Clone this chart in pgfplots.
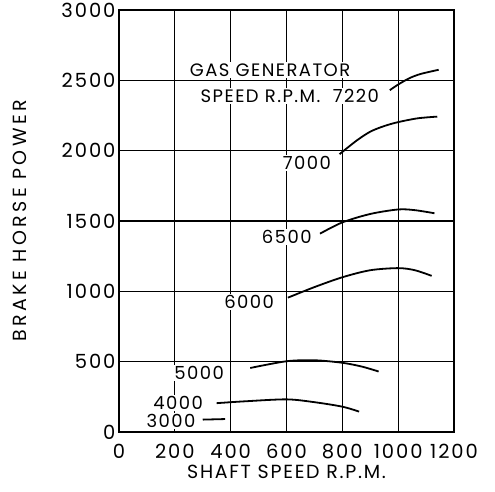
\documentclass[border=0pt]{standalone}
\usepackage{fontspec}
\setmainfont{Poppins}
\newfontfamily\ticksfont{Poppins}[LetterSpace=10]
\newfontfamily\labfont{Poppins}[LetterSpace=18]
\newfontfamily\xlabfont{Poppins}[LetterSpace=9]
\newfontfamily\curvefont{Poppins}[LetterSpace=8]
\usepackage{pgfplots}
\pgfplotsset{compat=1.18}
\usetikzlibrary{calc}

\begin{document}
\begin{tikzpicture}
\begin{axis}[
    name=ax,
    scale only axis,
    width=335pt, height=422pt,
    xmin=0, xmax=1200, ymin=0, ymax=3000,
    xtick={0,200,...,1200},
    ytick={0,500,...,3000},
    major tick length=0pt,
    grid=major,
    major grid style={black, line width=1.3pt},
    /pgf/number format/assume math mode=true,
    /pgf/number format/1000 sep={},
    tick label style={font=\ticksfont\fontsize{19.5}{22}\selectfont},
    xticklabel style={yshift=-9pt},
    label style={font=\labfont\fontsize{19}{22}\selectfont},
    xlabel={SHAFT SPEED R.P.M.},
    ylabel={BRAKE HORSE POWER},
    xlabel style={font=\xlabfont\fontsize{19}{22}\selectfont, at={(axis description cs:0.5,-0.095)}, anchor=center},
    ylabel style={at={(axis description cs:-0.296,0.5)}, anchor=center},
    cycle list={black, solid, line width=1.8pt, smooth, mark=none\\},
    clip=false,
]
\draw[line width=2.6pt] (rel axis cs:0,0) rectangle (rel axis cs:1,1);
% one curve per gas generator speed
\addplot coordinates {(300,88) (380,92)};
\addplot coordinates {(350,205) (450,218) (600,232) (700,212) (800,180) (860,145)};
\addplot coordinates {(470,455) (600,503) (700,510) (800,492) (870,465) (930,430)};
\addplot coordinates {(605,955) (700,1030) (800,1100) (900,1150) (1000,1165) (1060,1150) (1120,1110)};
\addplot coordinates {(720,1410) (800,1490) (900,1550) (1000,1582) (1060,1577) (1130,1555)};
\addplot coordinates {(790,1975) (850,2070) (900,2135) (950,2175) (1000,2203) (1070,2230) (1140,2242)};
\addplot coordinates {(970,2430) (1000,2470) (1040,2515) (1080,2545) (1145,2575)};

\begin{scope}[every node/.style={fill=white, inner sep=1.5pt, font=\curvefont\fontsize{18}{21}\selectfont}]
\node at (axis cs:541,2573) {GAS GENERATOR};
\node at (axis cs:612,2389) {SPEED R.P.M.\ \ 7220};
\node at (axis cs:673,1912) {7000};
\node at (axis cs:601,1386) {6500};
\node at (axis cs:466,925) {6000};
\node at (axis cs:287,419) {5000};
\node at (axis cs:212,206) {4000};
\node at (axis cs:186,78) {3000};
\end{scope}
\end{axis}
\pgfresetboundingbox
\path ($(ax.south west)+(-119pt,-60pt)$) rectangle ($(ax.south west)+(376pt,432pt)$);
\end{tikzpicture}
\end{document}
